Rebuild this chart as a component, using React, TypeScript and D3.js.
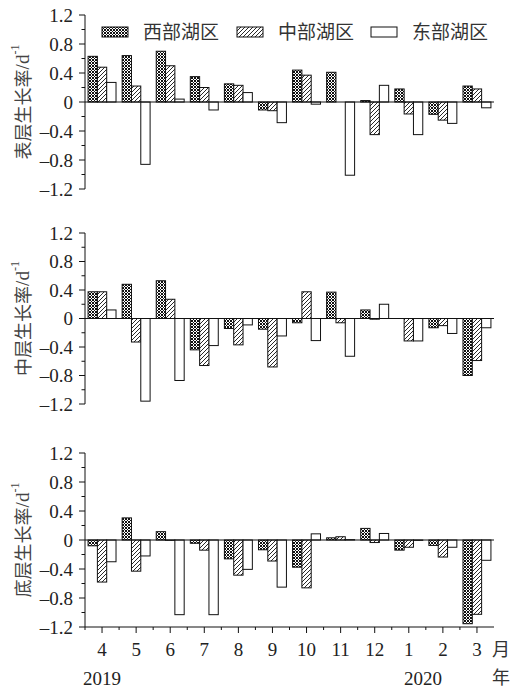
import React from "react";
import * as d3 from "d3";

const months = ["4", "5", "6", "7", "8", "9", "10", "11", "12", "1", "2", "3"];
const seriesNames = ["西部湖区", "中部湖区", "东部湖区"];
const yTicks = [1.2, 0.8, 0.4, 0, -0.4, -0.8, -1.2];
const yMinorTicks = [1.0, 0.6, 0.2, -0.2, -0.6, -1.0];

const surfaceWest = [0.63, 0.64, 0.7, 0.35, 0.25, -0.11, 0.44, 0.41, 0.02, 0.18, -0.17, 0.22];
const surfaceMid = [0.48, 0.22, 0.5, 0.2, 0.23, -0.12, 0.37, 0, -0.45, -0.165, -0.25, 0.18];
const surfaceEast = [0.27, -0.86, 0.04, -0.11, 0.13, -0.285, -0.03, -1.01, 0.23, -0.45, -0.295, -0.08];

const middleWest = [0.375, 0.48, 0.53, -0.44, -0.14, -0.15, -0.06, 0.37, 0.12, 0, -0.13, -0.8];
const middleMid = [0.375, -0.33, 0.27, -0.66, -0.37, -0.68, 0.375, -0.06, -0.01, -0.315, -0.1, -0.59];
const middleEast = [0.12, -1.16, -0.87, -0.38, -0.09, -0.245, -0.31, -0.53, 0.2, -0.315, -0.21, -0.13];

const bottomWest = [-0.08, 0.305, 0.115, -0.045, -0.26, -0.135, -0.375, 0.03, 0.16, -0.14, -0.075, -1.155];
const bottomMid = [-0.58, -0.43, -0.005, -0.14, -0.485, -0.29, -0.66, 0.045, -0.035, -0.1, -0.235, -1.025];
const bottomEast = [-0.3, -0.22, -1.03, -1.03, -0.405, -0.65, 0.085, 0.005, 0.09, -0.005, -0.1, -0.28];

const panels = [
  { title: "表层生长率", series: [surfaceWest, surfaceMid, surfaceEast], top: 15, bottom: 189, xAxis: false },
  { title: "中层生长率", series: [middleWest, middleMid, middleEast], top: 233, bottom: 404, xAxis: false },
  { title: "底层生长率", series: [bottomWest, bottomMid, bottomEast], top: 453, bottom: 627, xAxis: true },
];

const fills = ["url(#cross)", "url(#hatch)", "#fff"];
const LEFT = 85;
const RIGHT = 494;
const TXT = "#222";
const serif = "Liberation Serif, Times New Roman, DejaVu Serif, serif";
const cjk = "Noto Sans CJK SC, sans-serif";

export default function App() {
  const x0 = d3.scaleBand<string>().domain(months).range([LEFT, RIGHT]).paddingInner(0.18).paddingOuter(0.09);
  const x1 = d3.scaleBand<number>().domain([0, 1, 2]).range([0, x0.bandwidth()]);
  const step = x0.step();

  return (
    <svg width={510} height={688} style={{ position: "absolute", left: 0, top: 0, background: "#fff" }}>
      <defs>
        <pattern id="cross" width={3} height={3} patternUnits="userSpaceOnUse">
          <rect width={3} height={3} fill="#fff" />
          <path d="M0,0L3,3M3,0L0,3" stroke="#111" strokeWidth={1} />
        </pattern>
        <pattern id="hatch" width={4} height={4} patternUnits="userSpaceOnUse">
          <rect width={4} height={4} fill="#fff" />
          <path d="M-1,1L1,-1M0,4L4,0M3,5L5,3" stroke="#111" strokeWidth={0.9} />
        </pattern>
      </defs>

      {panels.map((p, pi) => {
        const y = d3.scaleLinear().domain([-1.2, 1.2]).range([p.bottom, p.top]);
        const y0 = y(0);
        return (
          <g key={pi}>
            {p.series.map((vals, si) =>
              vals.map((v, mi) => {
                const xx = (x0(months[mi]) as number) + (x1(si) as number);
                const yy = Math.min(y(v), y0);
                const h = Math.abs(y(v) - y0);
                return (
                  <rect key={`${si}-${mi}`} x={xx} y={yy} width={x1.bandwidth()} height={h}
                    fill={fills[si]} stroke="#111" strokeWidth={1} />
                );
              })
            )}
            <line x1={LEFT} x2={RIGHT} y1={y0} y2={y0} stroke="#111" strokeWidth={1} />
            <line x1={LEFT} x2={LEFT} y1={p.top} y2={p.bottom} stroke="#111" strokeWidth={1} />
            {yTicks.map((t) => (
              <g key={t}>
                <line x1={LEFT - 6} x2={LEFT} y1={y(t)} y2={y(t)} stroke="#111" strokeWidth={1} />
                <text x={LEFT - 12} y={y(t)} dy="0.35em" textAnchor="end" style={{ fontFamily: serif, fontSize: 19 }} fill={TXT}>
                  {t === 0 ? "0" : t < 0 ? "\u2013" + Math.abs(t).toFixed(1) : t.toFixed(1)}
                </text>
              </g>
            ))}
            {yMinorTicks.map((t) => (
              <line key={t} x1={LEFT - 3.5} x2={LEFT} y1={y(t)} y2={y(t)} stroke="#111" strokeWidth={1} />
            ))}
            <text transform={`translate(22,${y0}) rotate(-90)`} textAnchor="middle" dominantBaseline="central" fill="#444">
              <tspan style={{ fontFamily: cjk, fontSize: 18 }}>{p.title}</tspan>
              <tspan style={{ fontFamily: serif, fontSize: 19 }}>/d</tspan>
              <tspan style={{ fontFamily: serif, fontSize: 12 }} dy={-7}>-1</tspan>
            </text>
            {p.xAxis && (
              <g>
                <line x1={LEFT} x2={RIGHT} y1={p.bottom} y2={p.bottom} stroke="#111" strokeWidth={1} />
                {months.map((m) => {
                  const cx = (x0(m) as number) + x0.bandwidth() / 2;
                  return (
                    <g key={m}>
                      <line x1={cx} x2={cx} y1={p.bottom} y2={p.bottom + 6} stroke="#111" strokeWidth={1} />
                      <line x1={cx - step / 2} x2={cx - step / 2} y1={p.bottom} y2={p.bottom + 3} stroke="#111" strokeWidth={1} />
                      <text x={cx} y={656} textAnchor="middle" style={{ fontFamily: serif, fontSize: 19 }} fill={TXT}>{m}</text>
                    </g>
                  );
                })}
                <text x={501} y={656} textAnchor="middle" style={{ fontFamily: cjk, fontSize: 18 }} fill="#333">月</text>
                <text x={501} y={684} textAnchor="middle" style={{ fontFamily: cjk, fontSize: 18 }} fill="#333">年</text>
                <text x={(x0("4") as number) + x0.bandwidth() / 2} y={685} textAnchor="middle" style={{ fontFamily: serif, fontSize: 19 }} fill={TXT}>2019</text>
                <text x={423} y={685} textAnchor="middle" style={{ fontFamily: serif, fontSize: 19 }} fill={TXT}>2020</text>
              </g>
            )}
          </g>
        );
      })}

      {seriesNames.map((s, i) => {
        const sx = [102, 237, 371][i];
        return (
          <g key={s}>
            <rect x={sx} y={27} width={26} height={10} fill={fills[i]} stroke="#111" strokeWidth={1} />
            <text x={sx + 41} y={39} style={{ fontFamily: cjk, fontSize: 19 }} fill="#333">{s}</text>
          </g>
        );
      })}
    </svg>
  );
}
